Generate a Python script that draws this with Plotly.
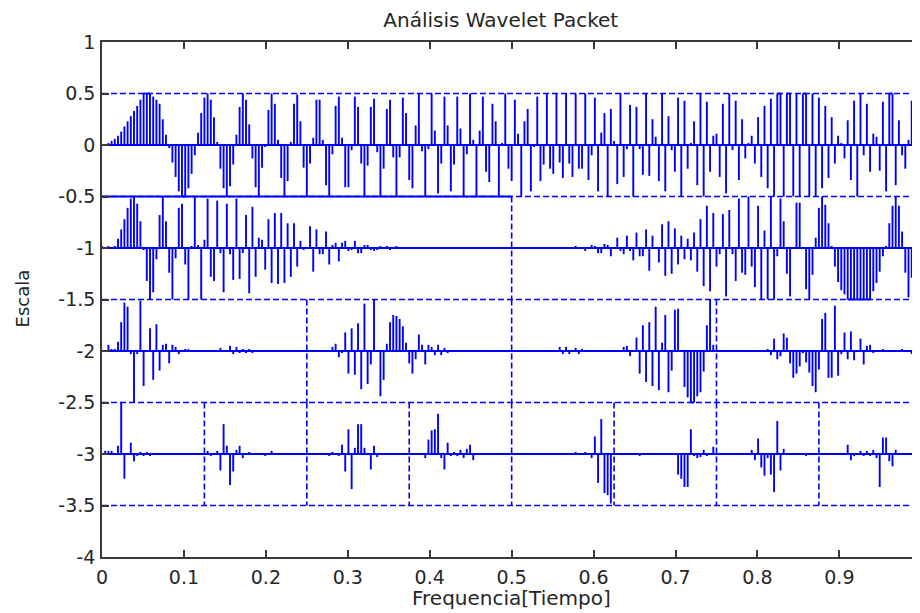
import plotly.graph_objects as go

# ---------------- data ----------------
title_text = "Análisis Wavelet Packet"
x_label = "Frequencia[Tiempo]"
y_label = "Escala"

x_ticks = [0, 0.1, 0.2, 0.3, 0.4, 0.5, 0.6, 0.7, 0.8, 0.9]
x_tick_text = ["0", "0.1", "0.2", "0.3", "0.4", "0.5", "0.6", "0.7", "0.8", "0.9"]
y_ticks = [1, 0.5, 0, -0.5, -1, -1.5, -2, -2.5, -3, -3.5, -4]
y_tick_text = ["1", "0.5", "0", "-0.5", "-1", "-1.5", "-2", "-2.5", "-3", "-3.5", "-4"]

level_offsets = [0, -1, -2, -3]
clip_level = 0.5

# depth 0 (one packet, 256 coefficients)
d0 = [0.0, 0.01,
      0.02, 0.04, 0.06, 0.09, 0.13, 0.18, 0.23, 0.28, 0.33, 0.38, 0.44, 0.5, 0.5, 0.5, 0.47, 0.44, 0.4, 0.25, 0.1,
      -0.03, -0.17, -0.31, -0.45, -0.5, -0.5, -0.42, -0.28, -0.1,
      0.12, 0.31, 0.46, 0.5, 0.44, 0.27, 0.03,
      -0.23, -0.42, -0.5, -0.4, -0.19,
      0.1, 0.37, 0.5, 0.44, 0.2,
      -0.13, -0.41, -0.5, -0.22, -0.02,
      0.34, 0.5, 0.4, 0.05,
      -0.32, -0.5, -0.35,
      0.03, 0.4, 0.49, 0.23,
      -0.22, -0.5, -0.18,
      0.07, 0.44, 0.44, 0.05,
      -0.39, -0.5, -0.09,
      0.38, 0.47, 0.07,
      -0.41, -0.41,
      -0.05, 0.47, 0.37,
      -0.18, -0.5, -0.2,
      0.37, 0.45,
      -0.07, -0.5, -0.23,
      0.35,
      0.44, -0.12, -0.5, -0.12, 0.46, 0.31, -0.34, -0.42, 0.19, 0.5,
      -0.06, -0.5, -0.04, 0.5, 0.14, -0.47, -0.18, 0.47, 0.19, -0.45,
      -0.19, 0.47, 0.16, -0.5, -0.09, 0.5, 0.05, -0.5, 0.14, 0.47,
      -0.26, -0.36, 0.4, 0.23, -0.5, 0.02, 0.5, -0.23, -0.35, 0.44,
      0.11, -0.5, 0.23, 0.35, -0.45, -0.02, 0.47, -0.35, -0.19, 0.5,
      -0.23, -0.28, 0.5, -0.17, -0.32, 0.5, -0.18, -0.31, 0.5, -0.23,
      -0.23, 0.5, -0.34, -0.1, 0.46, -0.45, 0.12, 0.31, -0.5, 0.35,
      0.04, -0.38, 0.5, -0.31, -0.04, 0.39, -0.5, 0.37, -0.04, -0.29,
      0.5,
      -0.3, 0.25, 0.08, -0.35, 0.5, -0.45, 0.28, -0.05, -0.26, 0.46,
      -0.5, 0.43, -0.23, 0.02, 0.23, -0.39, 0.5, -0.5, 0.42, -0.26,
      0.09, 0.11, -0.31, 0.4, -0.47, 0.5, -0.05, 0.43, -0.34, 0.25,
      -0.13, 0.02, 0.09, -0.18, 0.27, -0.31, 0.38, -0.42, 0.45, -0.5,
      0.5, 0.5, -0.5, 0.5, 0.5, -0.5, 0.5, -0.5, 0.5, 0.5,
      -0.5, 0.5, -0.5, 0.46, -0.42, 0.38, -0.32, 0.27, -0.18, 0.09,
      0.02, -0.13, 0.24, -0.34, 0.43, -0.5, 0.5, -0.1, 0.4, -0.26,
      0.11, 0.08, -0.25, 0.42, -0.45, 0.5, 0.5, -0.39, 0.24, -0.1,
      -0.23, 0.05, 0.43, 0.47, -0.1]

# depth 1 (two packets, 128 coefficients each)
d1_a = [0.02, 0.0, 0.02, 0.0, 0.02, 0.09, 0.18, 0.28, 0.39, 0.48,
        0.5, 0.43, 0.26, -0.02, -0.32, -0.5, -0.43, -0.11, 0.32, 0.5,
        0.26, -0.24, -0.5, -0.1, 0.39, 0.43, -0.16, -0.5, 0.02, 0.5,
        0.03, -0.5, 0.08, 0.48, -0.28, -0.32, 0.46, -0.05, -0.43, 0.43,
        -0.06, -0.31, 0.48, -0.3, -0.05, 0.32, -0.44, 0.4, -0.28, 0.1,
        0.08, -0.21, 0.28, -0.34, 0.34, -0.35, 0.34, -0.34, 0.24, -0.28,
        0.24, -0.18, 0.07, -0.02, 0.0, 0.21, -0.23, 0.18, -0.06, -0.06,
        0.16, -0.16, 0.03, 0.05, -0.13, 0.05, 0.07, -0.03, -0.02, 0.07,
        -0.05, -0.05, 0.03, 0.03, -0.02, -0.03, -0.02, 0.02, 0.0, 0.02,
        -0.02, 0.0, 0.02, 0.0, 0.0, 0.0, -0.01, 0.0, 0.0, 0.0,
        0.0, 0.0, 0.0, 0.0, 0.0, 0.0, 0.0, 0.0, 0.0, 0.0,
        0.0, 0.0, 0.0, 0.0, 0.0, 0.0, 0.0, 0.0, 0.0, 0.0,
        0.0, 0.0, 0.0, 0.0, 0.0, -0.01, 0.0, 0.0]
d1_b = [0.0, 0.0, 0.0, 0.0, 0.0, 0.0, 0.0, 0.0, 0.0, 0.0,
        0.0, 0.0, 0.0, 0.0, 0.0, 0.0, 0.0,
        0.01, 0.0, 0.01, 0.02, 0.0, 0.01, -0.03, -0.01, 0.03, 0.02,
        -0.05, -0.05, 0.04, 0.03, -0.08, 0.0, 0.1, -0.03, -0.06, 0.12,
        -0.03, -0.12, 0.15, -0.08, -0.08, 0.18, -0.22,
        0.12, 0.0, -0.14, 0.23, -0.27, 0.26, -0.25, 0.19, -0.16, 0.12,
        -0.11, 0.09, -0.12, 0.15, -0.23, 0.28, -0.37, 0.41, -0.42, 0.34,
        -0.18, -0.06, 0.33, -0.47, 0.37, -0.06, -0.32, 0.48, -0.24, -0.26,
        0.5, -0.18, -0.38, 0.41, -0.5, 0.17, -0.5, 0.5, -0.5, -0.08,
        0.48, 0.26, -0.25, -0.47, 0.0, 0.44, 0.44, 0.0, -0.4, -0.5,
        -0.26, 0.1, 0.39, 0.5, 0.42, 0.24, 0.02, -0.18, -0.33, -0.41,
        -0.45, -0.5, -0.5, -0.5, -0.5, -0.5, -0.5, -0.5, -0.5, -0.42,
        -0.34, -0.23, -0.08, 0.02, 0.24, 0.41, 0.5, 0.41, 0.16, -0.24,
        -0.48, -0.29, 0.05, 0.5]

# depth 2 (four packets, 64 coefficients each)
d2_a = [0.0, 0.01, 0.06, 0.02, 0.02, 0.09, 0.28, 0.47, 0.43, -0.03,
        -0.5, -0.03, 0.49, -0.34, 0.0, 0.22, -0.28, 0.26, -0.19, 0.06,
        0.07, -0.12, 0.06, 0.04, -0.03, 0.01, 0.02, 0.02,
        0.0, 0.0, 0.0, 0.0, 0.0, 0.0, 0.0, 0.0, 0.0,
        0.03, -0.01, -0.01, 0.05, -0.03, 0.04, -0.02, 0.02, -0.02, 0.02,
        -0.02, 0.01,
        0.0, 0.0, 0.0, 0.0, 0.0, 0.0, 0.0, 0.0, 0.0, 0.0, 0.0, 0.0, 0.0, 0.0, 0.0]
d2_b = [0.0, 0.0, 0.0, 0.0, 0.0, 0.0, 0.0,
        -0.01, 0.04, 0.07, -0.06, -0.02, 0.18, -0.22, 0.22, -0.23, 0.27,
        -0.37, 0.46, -0.32, -0.13, 0.5, 0.0, -0.44, -0.28, 0.07, 0.28,
        0.35, 0.34, 0.31, 0.24, 0.08, -0.12, -0.22, -0.08, 0.16, 0.06,
        -0.13, 0.06, 0.04, -0.04, 0.06, -0.04, 0.03, -0.02, 0.01,
        0.0, 0.0, 0.0, 0.0, 0.0, 0.0, 0.0, 0.0, 0.0, 0.0, 0.0, 0.0, 0.0, 0.0, 0.0, 0.0, 0.0, 0.0]
d2_c = [0.0, 0.0, 0.0, 0.0, 0.0, 0.0, 0.0, 0.0, 0.0, 0.0,
        0.01, 0.0, 0.0, 0.0,
        -0.01, 0.04, -0.03, 0.04, -0.03, 0.01, 0.03, -0.03, 0.02, 0.01,
        0.0, 0.0, 0.0, 0.0, 0.0, 0.0, 0.0, 0.0, 0.0, 0.0,
        -0.01, 0.04, 0.05, -0.05, 0.0, 0.13, -0.22, 0.25, -0.3, 0.28,
        -0.34, 0.43, -0.38, 0.08, 0.35, -0.4, -0.19, 0.4, 0.41, 0.01,
        -0.35, -0.45, -0.5, -0.5, -0.44, -0.4, -0.2, 0.25, 0.5, 0.06]
d2_d = [0.0, 0.0, 0.0, 0.0, 0.0, 0.0, 0.0, 0.0, 0.0, 0.0,
        0.01, 0.0, 0.01, 0.0, 0.0, 0.01, 0.02, -0.04, 0.12, -0.08,
        -0.05, 0.17, 0.13, -0.12, -0.26, -0.22, -0.15, -0.02, -0.11, -0.21,
        -0.34, -0.4, -0.18, 0.31, 0.37, -0.26, -0.26, 0.44, -0.24, -0.03,
        0.18, -0.08, 0.19, -0.09, 0.0, 0.12, -0.13, 0.05, 0.06, -0.02,
        -0.01, 0.0, 0.02,
        0.0, 0.0, 0.0, 0.0, 0.0,
        0.02, 0.01, 0.0, -0.03, 0.0, 0.04]

# depth 3 (eight packets, 32 coefficients each)
d3_a = [0.0, 0.03, 0.03, 0.03, 0.0, 0.08, 0.5, -0.24, 0.0, 0.11,
        -0.07, -0.02, 0.02, -0.02, 0.02, -0.02,
        0.0, 0.0, 0.0, 0.0, 0.0, 0.0, 0.0, 0.0, 0.0, 0.0, 0.0, 0.0, 0.0, 0.0, 0.0, 0.0]
d3_b = [0.0, 0.03, -0.02, 0.0, 0.03, -0.16, 0.29, 0.08, -0.3, -0.17,
        0.04, 0.08, -0.04, 0.0, 0.02,
        0.0, 0.0, 0.0, 0.0,
        -0.02, 0.0, 0.03, -0.01, -0.01, -0.01,
        0.0, 0.0, 0.0, 0.0, 0.0, 0.0, 0.0]
d3_c = [0.0, 0.0, 0.0, 0.0, 0.0, 0.0, 0.0,
        -0.02, 0.02, 0.0, -0.02, 0.09, -0.17, 0.24, -0.34, 0.06, 0.29,
        0.29, 0.06, 0.0, -0.15, 0.08, -0.03,
        0.0, 0.0, 0.0, 0.0, 0.0, 0.0, 0.0, 0.0, 0.0]
d3_d = [0.0, 0.0, 0.0, 0.0, 0.0,
        -0.04, 0.14, 0.23, 0.24, 0.39, -0.04, -0.15, 0.11, -0.02, 0.02,
        -0.02, 0.04, -0.04, 0.05, 0.09, -0.06, -0.01,
        0.0, 0.0, 0.0, 0.0, 0.0, 0.0, 0.0, 0.0, 0.0, 0.0]
d3_e = [0.0, 0.0, 0.0, 0.0, 0.0, 0.0, 0.0, 0.0, 0.0, 0.0, 0.0, 0.0, 0.0,
        -0.01, 0.0, 0.0, 0.0, 0.0, 0.0,
        0.01, 0.02, -0.01, 0.01, 0.02, 0.0, -0.04, 0.17, -0.28, 0.34,
        -0.38, -0.4, -0.48]
d3_f = [0.0, 0.0, 0.0, 0.0, 0.0, 0.0, 0.0, 0.0,
        -0.02, 0.01, 0.0, 0.01, -0.01,
        0.0, 0.0, 0.0, 0.0, 0.0,
        0.01, 0.01, -0.2, -0.24, -0.32, -0.32, 0.24, -0.02, -0.04, -0.03,
        0.04, -0.02, 0.0, 0.07]
d3_g = [0.0, 0.0, 0.0, 0.0, 0.0, 0.0, 0.0, 0.0, 0.0, 0.0, 0.0,
        0.04, -0.06, 0.15, -0.13, -0.21, -0.04, -0.2, -0.37, 0.32, -0.16,
        0.05, 0.0, 0.0, -0.01, 0.0, 0.01, 0.0, -0.02,
        0.0, 0.0, 0.0]
d3_h = [0.0, 0.0, 0.0, 0.0, 0.0, 0.0, 0.0, 0.0,
        0.01, 0.09, -0.06, -0.02, -0.01, 0.03, -0.02, 0.03, -0.02, 0.04,
        -0.04, -0.32, 0.16, 0.16, -0.07, -0.12, 0.04,
        0.0, 0.0, 0.0, 0.0, 0.0, 0.0, 0.0]

levels = [[d0], [d1_a, d1_b], [d2_a, d2_b, d2_c, d2_d],
          [d3_a, d3_b, d3_c, d3_d, d3_e, d3_f, d3_g, d3_h]]

# ---------------- figure ----------------
BLUE = "#0000ff"
AX = "#3a3a3a"
TXT = "#262626"
FONT = "DejaVu Sans"
DASH = "6px,3px"
LW = 1.9

stem_x, stem_y = [], []
cap_x, cap_y = [], []
hbox_x, hbox_y = [], []
vbox_x, vbox_y = [], []
base_x, base_y = [], []

edge_levels = sorted({off + s * clip_level for off in level_offsets for s in (-1, 1)})
for yv in edge_levels:
    hbox_x += [0, 1, None]
    hbox_y += [yv, yv, None]

for off, nodes in zip(level_offsets, levels):
    w = 1.0 / len(nodes)
    base_x += [0, 1, None]
    base_y += [off, off, None]
    for k, coefs in enumerate(nodes):
        x0 = k * w
        if k > 0:
            vbox_x += [x0, x0, None]
            vbox_y += [off + clip_level, off - clip_level, None]
        n = len(coefs)
        xs = [x0 + j * w / n for j in range(n)]
        vs = [max(-clip_level, min(clip_level, v)) for v in coefs]
        for xj, v in zip(xs, vs):
            if v != 0:
                stem_x += [xj, xj, None]
                stem_y += [off, off + v, None]
        for j in range(n - 1):
            a, b = vs[j], vs[j + 1]
            if abs(a) >= clip_level and abs(b) >= clip_level and a * b > 0:
                cap_x += [xs[j], xs[j + 1], None]
                cap_y += [off + a, off + b, None]

# first-level lower edge overlaps the first second-level upper edge (reads as solid)
overlap_x = [0, 0.5]
overlap_y = [level_offsets[0] - clip_level] * 2

fig = go.Figure()
for xx, yy, dash in [(hbox_x, hbox_y, DASH), (vbox_x, vbox_y, DASH),
                     (overlap_x, overlap_y, None), (base_x, base_y, None),
                     (stem_x, stem_y, None), (cap_x, cap_y, None)]:
    fig.add_trace(go.Scatter(x=xx, y=yy, mode="lines",
                             line=dict(color=BLUE, width=LW if dash is None else 1.6, dash=dash),
                             hoverinfo="skip", showlegend=False))

# the page body adds an 8 px offset, so the figure is laid out 8 px smaller
W, H = 912, 605
ML, MT, MB = 94.4, 33.5, 56.3
plot_w = W - ML
plot_h = H - MT - MB
x_end = plot_w / 818.9  # axis 0..1 spans ~819 px, its right end is cut off


def px_x(p):
    return (p - ML) / plot_w


def px_y(p):
    return (H - MB - p) / plot_h


fig.update_layout(
    width=W, height=H,
    margin=dict(l=ML, r=0, t=MT, b=MB, pad=0),
    paper_bgcolor="white", plot_bgcolor="white",
    font=dict(family=FONT, size=19, color=TXT),
    title=dict(text=title_text, x=px_x(493), xref="paper",
               xanchor="center", y=1 - 12 / H, yanchor="middle",
               font=dict(family=FONT, size=20, color=TXT)),
    xaxis=dict(range=[0, x_end], tickvals=x_ticks, ticktext=x_tick_text,
               ticks="inside", ticklen=7, tickwidth=1.5, tickcolor=AX,
               showline=True, linecolor=AX, linewidth=1.5, mirror="ticks",
               showgrid=False, zeroline=False, ticklabelstandoff=2,
               tickfont=dict(family=FONT, size=19, color=TXT)),
    yaxis=dict(range=[-4, 1], tickvals=y_ticks, ticktext=y_tick_text,
               ticks="inside", ticklen=7, tickwidth=1.5, tickcolor=AX,
               showline=True, linecolor=AX, linewidth=1.5, mirror=False,
               showgrid=False, zeroline=False, ticklabelstandoff=1,
               tickfont=dict(family=FONT, size=19, color=TXT)),
    annotations=[
        dict(text="1", xref="paper", yref="paper",
             x=px_x(913.3), y=px_y(566),
             xanchor="center", yanchor="middle", showarrow=False,
             font=dict(family=FONT, size=19, color=TXT)),
        dict(text=x_label, xref="paper", yref="paper",
             x=px_x(503.5), y=px_y(590),
             xanchor="center", yanchor="middle", showarrow=False,
             font=dict(family=FONT, size=20, color=TXT)),
        dict(text=y_label, xref="paper", yref="paper", textangle=-90,
             x=px_x(15), y=px_y(290.5),
             xanchor="center", yanchor="middle", showarrow=False,
             font=dict(family=FONT, size=18, color=TXT)),
    ],
)

fig.write_html("out.html")
